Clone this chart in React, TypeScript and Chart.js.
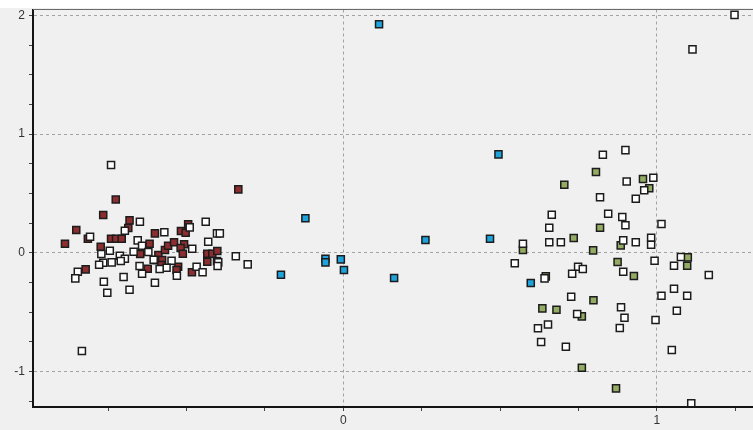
import { useEffect, useRef } from "react";
import { Chart, registerables } from "chart.js";

Chart.register(...registerables);

// Axis ranges and labelled tick values
const xRange = [-0.99, 1.307];
const yRange = [-1.3, 2.05];
const xTickLabels = [0, 1];
const yTickLabels = [-1, 0, 1, 2];

// Group scores as [x, y]
const redPoints: [number, number][] = [
  [-0.888, 0.076], [-0.852, 0.191], [-0.815, 0.118], [-0.822, -0.14], [-0.766, 0.318],
  [-0.726, 0.448], [-0.682, 0.273], [-0.686, 0.208], [-0.741, 0.118], [-0.725, 0.118],
  [-0.707, 0.118], [-0.774, 0.051], [-0.601, 0.163], [-0.618, 0.076], [-0.648, -0.011],
  [-0.624, -0.135], [-0.59, -0.019], [-0.596, -0.062], [-0.578, -0.062], [-0.58, -0.104],
  [-0.569, 0.023], [-0.559, 0.059], [-0.54, 0.088], [-0.518, 0.183], [-0.503, 0.168],
  [-0.508, 0.071], [-0.519, 0.04], [-0.512, -0.008], [-0.495, 0.239], [-0.527, -0.118],
  [-0.532, -0.146], [-0.483, -0.165], [-0.434, -0.008], [-0.434, -0.076], [-0.418, -0.008],
  [-0.402, 0.014], [-0.403, -0.07], [-0.335, 0.534],
];

const bluePoints: [number, number][] = [
  [0.114, 1.926], [0.495, 0.829], [-0.121, 0.29], [0.262, 0.107], [0.468, 0.118],
  [-0.057, -0.051], [-0.057, -0.081], [-0.008, -0.056], [0.002, -0.146], [-0.199, -0.185],
  [0.162, -0.213], [0.598, -0.255],
];

const greenPoints: [number, number][] = [
  [0.806, 0.68], [0.705, 0.573], [0.956, 0.621], [0.976, 0.543], [0.819, 0.211],
  [0.735, 0.124], [0.885, 0.062], [0.573, 0.023], [0.797, 0.02], [1.099, -0.039],
  [1.097, -0.11], [0.875, -0.078], [0.927, -0.196], [0.646, -0.199], [0.798, -0.401],
  [0.635, -0.469], [0.68, -0.48], [0.761, -0.536], [0.761, -0.969], [0.87, -1.143],
];

const whiteLeftPoints: [number, number][] = [
  [-0.741, 0.739], [-0.834, -0.828], [-0.649, 0.261], [-0.697, 0.185], [-0.808, 0.135],
  [-0.656, 0.104], [-0.642, 0.059], [-0.669, 0.008], [-0.622, 0.006], [-0.745, 0.017],
  [-0.772, -0.011], [-0.713, -0.025], [-0.697, -0.051], [-0.71, -0.07], [-0.739, -0.081],
  [-0.766, -0.084], [-0.779, -0.101], [-0.605, -0.059], [-0.65, -0.112], [-0.642, -0.177],
  [-0.847, -0.16], [-0.855, -0.216], [-0.764, -0.244], [-0.701, -0.205], [-0.601, -0.253],
  [-0.753, -0.337], [-0.682, -0.312], [-0.571, 0.172], [-0.439, 0.261], [-0.49, 0.214],
  [-0.403, 0.163], [-0.394, 0.163], [-0.431, 0.093], [-0.482, 0.034], [-0.343, -0.03],
  [-0.305, -0.098], [-0.548, -0.067], [-0.564, -0.126], [-0.586, -0.137], [-0.531, -0.194],
  [-0.468, -0.118], [-0.449, -0.165], [-0.399, -0.081], [-0.401, -0.112],
];

const whiteRightPoints: [number, number][] = [
  [1.248, 2.005], [1.114, 1.714], [0.9, 0.865], [0.828, 0.826], [0.989, 0.632],
  [0.904, 0.601], [0.96, 0.526], [0.819, 0.467], [0.933, 0.455], [0.665, 0.32],
  [0.845, 0.329], [0.89, 0.301], [0.9, 0.231], [1.015, 0.242], [0.657, 0.211],
  [0.657, 0.088], [0.694, 0.088], [0.893, 0.104], [0.933, 0.088], [0.982, 0.126],
  [0.982, 0.067], [0.573, 0.076], [0.547, -0.089], [0.993, -0.067], [1.077, -0.036],
  [1.055, -0.11], [1.166, -0.188], [0.749, -0.118], [0.764, -0.137], [0.73, -0.177],
  [0.642, -0.216], [0.893, -0.16], [1.015, -0.362], [1.055, -0.303], [1.097, -0.362],
  [0.727, -0.371], [1.064, -0.489], [0.886, -0.46], [0.897, -0.548], [0.996, -0.567],
  [0.746, -0.516], [0.653, -0.604], [0.621, -0.637], [0.882, -0.634], [0.631, -0.752],
  [0.71, -0.792], [1.048, -0.82], [1.11, -1.269],
];

const PANEL_BG = "#f0f0f0";
const GRID = "#a3a3a3";
const AXIS = "#141414";
const MARK_EDGE = "#1c1c1c";

const toXY = (pts: [number, number][]) => pts.map(([x, y]) => ({ x, y }));

const isLabelled = (v: number, labels: number[]) =>
  labels.some((l) => Math.abs(l - v) < 1e-6);

// Grey panel with a white strip along the top, plus the thin frame line above the plot
const panelPlugin = {
  id: "panel",
  beforeDraw(chart: any) {
    const { ctx, width, height } = chart;
    ctx.save();
    ctx.fillStyle = "#ffffff";
    ctx.fillRect(0, 0, width, height);
    ctx.fillStyle = PANEL_BG;
    ctx.fillRect(0, 8, width, height - 8);
    ctx.restore();
  },
  afterDraw(chart: any) {
    const { ctx, chartArea } = chart;
    ctx.save();
    ctx.strokeStyle = "#6a6a6a";
    ctx.lineWidth = 1;
    ctx.beginPath();
    ctx.moveTo(chartArea.left, Math.floor(chartArea.top) + 0.5);
    ctx.lineTo(chart.width, Math.floor(chartArea.top) + 0.5);
    ctx.stroke();
    ctx.restore();
  },
};

const markStyle = (fill: string) => ({
  pointStyle: "rect" as const,
  pointRadius: 5,
  pointHoverRadius: 5,
  pointBorderWidth: 1.5,
  pointBorderColor: MARK_EDGE,
  pointBackgroundColor: fill,
  showLine: false,
});

export default function App() {
  const ref = useRef<HTMLCanvasElement>(null);

  useEffect(() => {
    document.body.style.margin = "0";
    const canvas = ref.current;
    if (!canvas) return;

    const tickFont = { family: "'Liberation Sans', Arial, sans-serif", size: 12 };

    const chart = new Chart(canvas, {
      type: "scatter",
      data: {
        // earlier datasets are painted on top
        datasets: [
          { label: "white", data: toXY([...whiteLeftPoints, ...whiteRightPoints]), ...markStyle("#ffffff") },
          { label: "green", data: toXY(greenPoints), ...markStyle("#93ab63") },
          { label: "blue", data: toXY(bluePoints), ...markStyle("#1fa3dc") },
          { label: "red", data: toXY(redPoints), ...markStyle("#8c2d2f") },
        ],
      },
      options: {
        responsive: false,
        animation: false,
        events: [],
        layout: { autoPadding: false, padding: { top: 9.5, right: 0, bottom: 0, left: 0 } },
        plugins: {
          legend: { display: false },
          tooltip: { enabled: false },
        },
        scales: {
          x: {
            type: "linear",
            min: xRange[0],
            max: xRange[1],
            afterFit: (s: any) => {
              s.height = 23;
              s.paddingLeft = 0;
              s.paddingRight = 0;
            },
            ticks: {
              stepSize: 0.25,
              includeBounds: false,
              autoSkip: false,
              maxRotation: 0,
              padding: 2,
              color: "#333333",
              font: tickFont,
              callback: (v: any) => (isLabelled(Number(v), xTickLabels) ? String(Math.round(Number(v))) : ""),
            },
            grid: {
              color: (c: any) => (isLabelled(c.tick?.value, xTickLabels) ? GRID : "rgba(0,0,0,0)"),
              tickColor: "#444444",
              tickLength: 4,
              lineWidth: 1,
            },
            border: { display: true, color: AXIS, width: 2, dash: [3, 3] },
          },
          y: {
            type: "linear",
            min: yRange[0],
            max: yRange[1],
            afterFit: (s: any) => {
              s.width = 33;
              s.paddingTop = 0;
              s.paddingBottom = 0;
            },
            ticks: {
              stepSize: 0.25,
              includeBounds: false,
              autoSkip: false,
              padding: 4,
              color: "#333333",
              font: tickFont,
              callback: (v: any) => (isLabelled(Number(v), yTickLabels) ? String(Math.round(Number(v))) : ""),
            },
            grid: {
              color: (c: any) => (isLabelled(c.tick?.value, yTickLabels) ? GRID : "rgba(0,0,0,0)"),
              tickColor: "#444444",
              tickLength: 4,
              lineWidth: 1,
            },
            border: { display: true, color: AXIS, width: 2, dash: [3, 3] },
          },
        },
      },
      plugins: [panelPlugin],
    });

    return () => chart.destroy();
  }, []);

  return (
    <div style={{ width: 753, height: 430 }}>
      <canvas ref={ref} width={753} height={430} style={{ display: "block" }} />
    </div>
  );
}
